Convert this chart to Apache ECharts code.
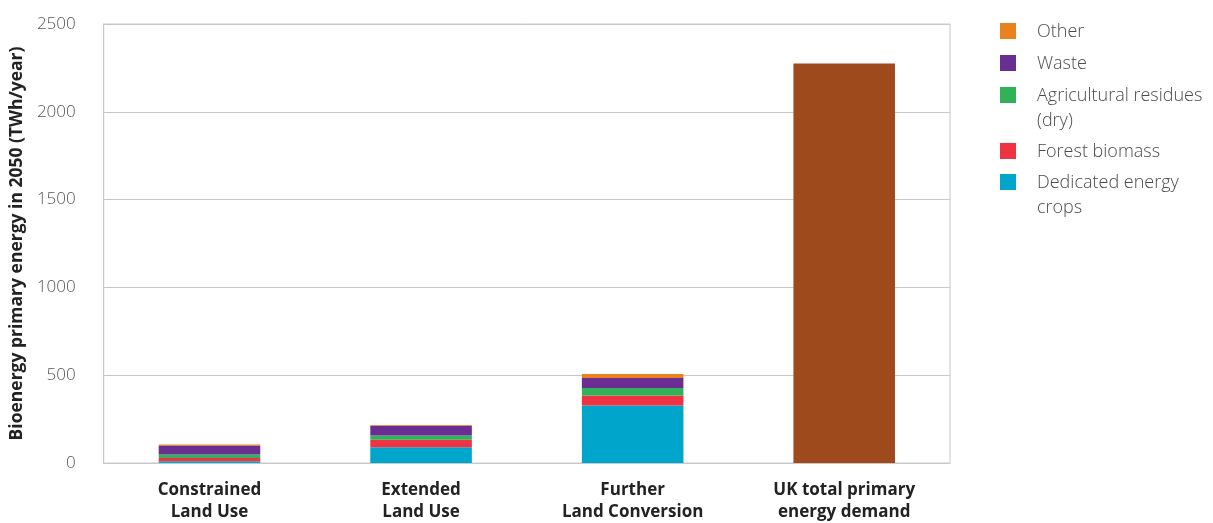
<!DOCTYPE html>
<html>
<head>
<meta charset="utf-8">
<script src="https://cdn.jsdelivr.net/npm/echarts@6/dist/echarts.min.js"></script>
<style>
html,body{margin:0;padding:0;background:#fff;}
#chart{width:1213px;height:523px;}
</style>
</head>
<body>
<div id="chart"></div>
<script>
const categories = ['Constrained\nLand Use', 'Extended\nLand Use', 'Further\nLand Conversion', 'UK total primary\nenergy demand'];
const dedicatedCrops = [10, 89, 327, null];
const forestBiomass = [19, 43, 58, null];
const agriResidues = [19, 25, 42, null];
const waste = [51, 55, 57, null];
const other = [7, 5, 23, null];
const ukTotal = [null, null, null, 2275];
const yTicks = [0, 500, 1000, 1500, 2000, 2500];

const seriesNames = ['Dedicated energy crops', 'Forest biomass', 'Agricultural residues (dry)', 'Waste', 'Other'];
const seriesData = [dedicatedCrops, forestBiomass, agriResidues, waste, other];
const seriesColors = ['#00A5CB', '#EE3443', '#30B258', '#6A2D91', '#E9821E'];
const legendLines = [['Other'], ['Waste'], ['Agricultural residues', '(dry)'], ['Forest biomass'], ['Dedicated energy', 'crops']];
const legendColors = ['#E9821E', '#6A2D91', '#30B258', '#EE3443', '#00A5CB'];

const chart = echarts.init(document.getElementById('chart'));

const series = seriesData.map((d, i) => ({
  name: seriesNames[i], type: 'bar', stack: 'total', data: d,
  barWidth: '48%', itemStyle: { color: seriesColors[i] }
}));
series.push({ name: 'UK total', type: 'bar', stack: 'total', data: ukTotal, barWidth: '48%', itemStyle: { color: '#9F4A1D' } });

// legend as graphics
const graphics = [];
const legendTops = [31, 63, 95, 151, 182];
legendLines.forEach((lines, i) => {
  const cy = legendTops[i];
  graphics.push({ type: 'rect', left: 1000, top: cy - 8, shape: { width: 16, height: 16 }, style: { fill: legendColors[i] } });
  lines.forEach((t, j) => {
    graphics.push({ type: 'text', left: 1037, top: cy - 11 + j * 25,
      style: { text: t, font: '300 18px "Open Sans", sans-serif', fill: '#4a4a4a', lineHeight: 24, textVerticalAlign: 'top' } });
  });
});

chart.setOption({
  animation: false,
  grid: { left: 103, right: 263, top: 24, bottom: 58.5, show: true, borderColor: '#c8c8c8', borderWidth: 1 },
  xAxis: {
    type: 'category', data: categories,
    axisLine: { lineStyle: { color: '#c8c8c8' } },
    axisTick: { show: false },
    axisLabel: { fontFamily: '"Open Sans", sans-serif', fontWeight: 'bold', fontSize: 17, color: '#222', lineHeight: 22, margin: 16, interval: 0 }
  },
  yAxis: {
    type: 'value', min: 0, max: 2500, interval: 500,
    name: 'Bioenergy primary energy in 2050 (TWh/year)',
    nameLocation: 'middle', nameGap: 72,
    nameTextStyle: { fontFamily: '"Open Sans", sans-serif', fontWeight: 'bold', fontSize: 17.5, color: '#222' },
    axisLine: { show: true, lineStyle: { color: '#c8c8c8' } },
    axisTick: { show: false },
    splitLine: { lineStyle: { color: '#c8c8c8' } },
    axisLabel: { fontFamily: '"Open Sans", sans-serif', fontWeight: 300, fontSize: 17, color: '#555', margin: 28,
      formatter: v => yTicks.includes(v) ? String(v) : '' }
  },
  graphic: graphics,
  series: series
});
</script>
</body>
</html>
